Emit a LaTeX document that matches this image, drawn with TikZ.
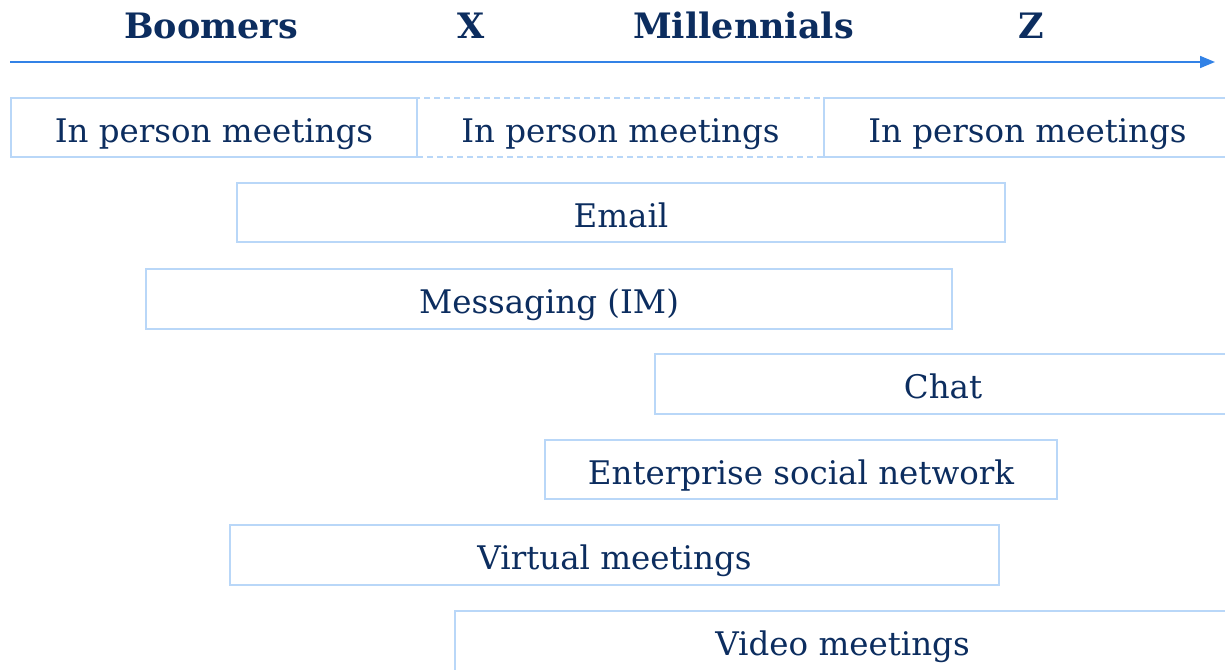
\documentclass[tikz,border=0pt]{standalone}
\usepackage{fontspec}
\setmainfont{DejaVu Serif}
\usetikzlibrary{arrows.meta}
\definecolor{navy}{RGB}{12,45,95}
\definecolor{boxline}{RGB}{185,215,248}
\definecolor{arrowblue}{RGB}{50,130,230}
\tikzset{
  bar/.style={draw=boxline, line width=1.2pt, text=navy, font=\fontsize{32.5}{32.5}\selectfont, inner sep=0pt, text height=30pt, text depth=1pt},
  gen/.style={text=navy, font=\bfseries\fontsize{35}{35}\selectfont, inner sep=0pt, anchor=base},
}
\newcommand{\barnode}[6]{% name, x1, y1, x2, y2, text
  \node[bar, minimum width={#4-#2}, minimum height={#5-#3}] (#1) at ({(#2+#4)/2},{(#3+#5)/2}) {#6};}
\begin{document}
\begin{tikzpicture}[x=1pt,y=-1pt]
\useasboundingbox (0,0) rectangle (1225,669);
\node[gen] (boomers) at (211,39) {Boomers};
\node[gen] (genx) at (471,39) {X};
\node[gen] (mill) at (743.5,39) {Millennials};
\node[gen] (genz) at (1031,39) {Z};
\coordinate (tstart) at (10,62);
\coordinate (tend) at (1215,62);
\draw[arrowblue, line width=1.6pt, -{Triangle[length=15pt,width=12pt]}] (tstart) -- (tend);
\barnode{ip1}{11}{98}{417}{157}{In person meetings}
\node[bar, dashed, dash pattern=on 6pt off 4pt, minimum width=407, minimum height=59] (ip2) at (620.5,127.5) {In person meetings};
\barnode{ip3}{824}{98}{1231}{157}{In person meetings}
\barnode{email}{237}{183}{1005}{242}{Email}
\barnode{im}{146}{269}{952}{329}{Messaging (IM)}
\barnode{chat}{655}{354}{1231}{414}{Chat}
\barnode{esn}{545}{440}{1057}{499}{Enterprise social network}
\barnode{virt}{230}{525}{999}{585}{Virtual meetings}
\barnode{video}{455}{611}{1230}{671}{Video meetings}
\end{tikzpicture}
\end{document}
